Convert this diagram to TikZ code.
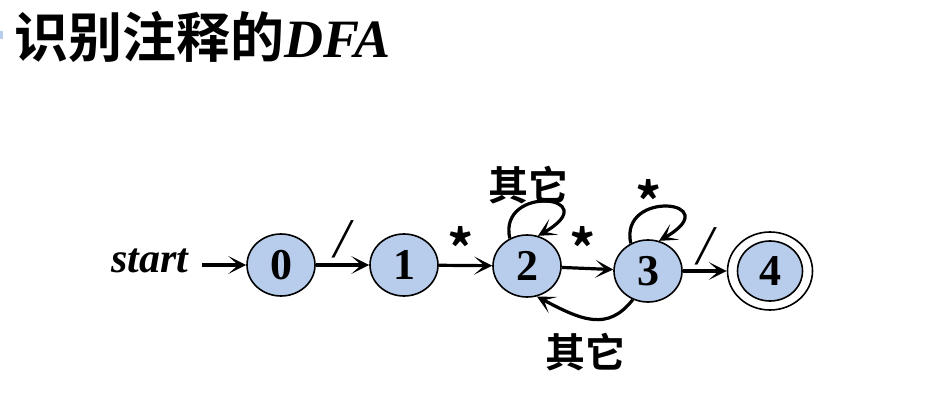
\documentclass[tikz,border=0pt]{standalone}
\usepackage{fontspec}
\setmainfont{Liberation Serif}
\newfontfamily\cjk{Noto Sans CJK SC}[BoldFont={* Bold}]
\usetikzlibrary{shapes.geometric,arrows.meta}
\definecolor{stfill}{HTML}{B7CDEB}
\tikzset{
  st/.style={ellipse,draw,line width=0.8pt,fill=stfill,minimum width=34pt,minimum height=31pt,inner sep=0pt,font=\fontsize{22}{22}\selectfont\bfseries},
  arr/.style={line width=1.6pt,-{Stealth[length=9pt,width=9pt,inset=5pt]}},
  lab/.style={font=\fontsize{20}{20}\selectfont\cjk\bfseries,inner sep=0pt},
  star/.style={font=\fontsize{26}{26}\selectfont\cjk\bfseries,inner sep=0pt},
  slash/.style={font=\fontsize{28}{28}\selectfont\itshape,inner sep=0pt}
}
\begin{document}
\begin{tikzpicture}[x=0.5pt,y=-0.5pt]
\useasboundingbox (0,0) rectangle (947,401);
\fill[stfill] (0,31) rectangle (3,39);
\node[anchor=base west,inner sep=0pt] (title) at (14,58) {{\fontsize{27}{27}\selectfont\cjk\bfseries 识别注释的}{\fontsize{27}{27}\selectfont\bfseries\itshape DFA}};
\node[inner sep=0pt,anchor=base,font=\fontsize{21}{21}\selectfont\bfseries\itshape] (start) at (150,272) {start};
\coordinate (s0) at (202,265);
\node[st] (n0) at (281,265) {0};
\node[st] (n1) at (404,265) {1};
\node[st] (n2) at (527,266) {2};
\node[st] (n3) at (648,271) {3};
\node[ellipse,draw,line width=0.8pt,minimum width=42.5pt,minimum height=39pt,inner sep=0pt] (n4o) at (770,271) {};
\node[st,minimum width=32.5pt,minimum height=30pt] (n4) at (770,271) {4};
\draw[arr] (s0) -- (n0);
\draw[arr] (n0) -- (n1);
\draw[arr] (n1) -- (n2);
\draw[arr] (n2) -- (n3);
\draw[arr] (n3) -- (n4o);
\draw[arr] (n2.122) .. controls +(-12,-55) and +(70,-40) .. (n2.70);
\draw[arr] (n3.122) .. controls +(-12,-55) and +(70,-40) .. (n3.70);
\draw[arr] (n3.-118) .. controls +(-25,32) and +(45,24) .. (n2.-72);
\node[slash] (l01) at (342,239) {/};
\node[star] (l12) at (461,247) {*};
\node[star] (l23) at (583,247) {*};
\node[slash] (l34) at (705,246) {/};
\node[lab] (l22) at (528,185) {其它};
\node[star] (l33) at (649,200) {*};
\node[lab] (l32) at (585,352) {其它};
\end{tikzpicture}
\end{document}
